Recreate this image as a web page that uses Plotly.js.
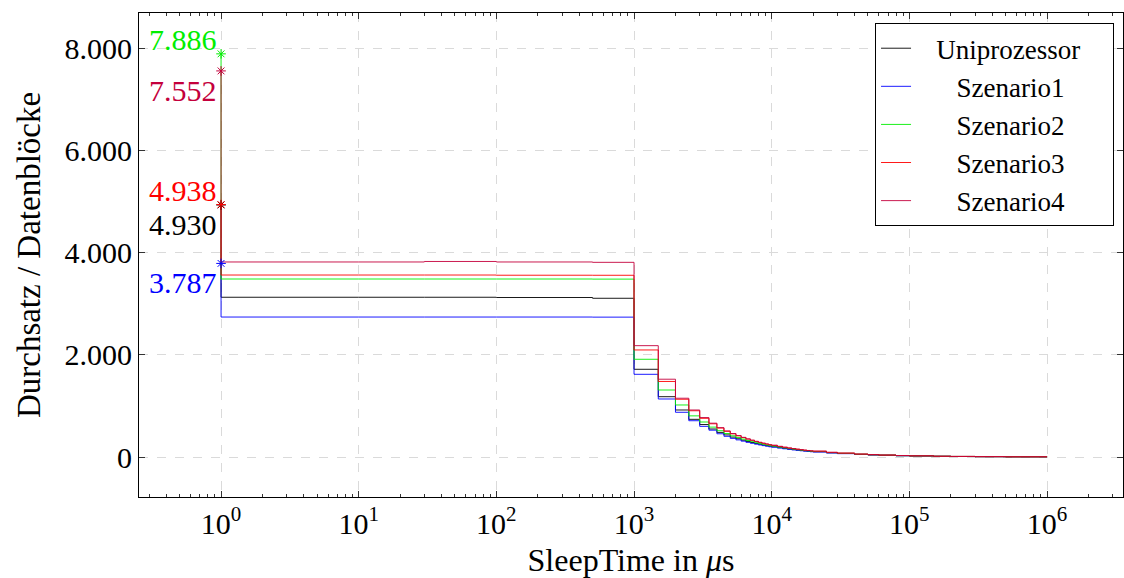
<!DOCTYPE html>
<html>
<head>
<meta charset="utf-8">
<script src="https://cdn.plot.ly/plotly-3.0.1.min.js"></script>
<style>
html,body{margin:0;padding:0;background:#fff;}
#chart{width:1124px;height:578px;}
</style>
</head>
<body>
<div id="chart"></div>
<script>
// ---- data ----
const seriesNames = ['Uniprozessor', 'Szenario1', 'Szenario2', 'Szenario3', 'Szenario4'];
const peakSleep = 1;
const peakValues = [4930, 3787, 7886, 4938, 7552];

const sleepPlateau = [1, 10, 30, 100, 500];
const plateauUni = [3125, 3125, 3125, 3120, 3105];
const plateauSz1 = [2738, 2738, 2738, 2738, 2736];
const plateauSz2 = [3482, 3482, 3482, 3482, 3480];
const plateauSz3 = [3560, 3560, 3560, 3556, 3555];
const plateauSz4 = [3815, 3815, 3825, 3815, 3808];

const sleepTail = [1000, 1500, 2000, 2500, 3000, 3500, 4000, 4500, 5000, 5500, 6000, 6500, 7000, 7500, 8000, 8500, 9000, 9500, 10000,
  11000, 12000, 13000, 14000, 15000, 16000, 17000, 18000, 19000, 20000,
  25000, 30000, 40000, 50000, 60000, 80000, 100000, 150000, 200000, 300000, 500000, 1000000];
const tailUni = [1716, 1180, 920, 737, 635, 548, 482, 432, 390, 357, 329, 305, 284, 266, 250, 236, 223, 212, 202,
  184, 170, 157, 146, 137, 128, 121, 114, 108, 103, 83, 69, 52, 42, 35, 26, 21, 14, 10.5, 7, 4.2, 2.1];
const tailSz1 = [1618, 1135, 875, 710, 600, 525, 455, 405, 365, 335, 310, 287, 268, 251, 236, 223, 211, 200, 191,
  175, 161, 149, 139, 130, 122, 115, 109, 103, 98, 79, 66, 50, 40, 34, 25, 20.5, 13.7, 10.3, 6.9, 4.1, 2];
const tailSz2 = [1912, 1311, 1018, 805, 685, 585, 515, 460, 415, 380, 350, 323, 300, 281, 264, 249, 236, 224, 213,
  194, 179, 165, 154, 144, 135, 127, 120, 114, 108, 87, 72, 54, 44, 36, 27, 22, 14.5, 11, 7.3, 4.4, 2.2];
const tailSz3 = [2094, 1478, 1130, 905, 757, 650, 566, 503, 453, 414, 380, 351, 326, 304, 285, 268, 253, 240, 228,
  207, 190, 176, 163, 152, 143, 134, 127, 120, 114, 91, 76, 57, 46, 38, 29, 23, 15, 11.5, 7.6, 4.6, 2.3];
const tailSz4 = [2178, 1522, 1150, 920, 772, 662, 575, 510, 460, 420, 385, 355, 330, 307, 288, 271, 256, 242, 230,
  209, 192, 177, 165, 154, 144, 135, 128, 121, 115, 92, 77, 58, 46, 38, 29, 23, 15, 11.5, 7.7, 4.6, 2.3];

const yTickVals = [0, 2000, 4000, 6000, 8000];
const yTickText = ['0', '2.000', '4.000', '6.000', '8.000'];
const xTickVals = [1, 10, 100, 1000, 10000, 100000, 1000000];
const xTickText = ['10<sup>0</sup>', '10<sup>1</sup>', '10<sup>2</sup>', '10<sup>3</sup>', '10<sup>4</sup>', '10<sup>5</sup>', '10<sup>6</sup>'];

// ---- styles ----
const colors = ['#000000', '#0000ff', '#00ee00', '#ff0000', '#c4003c'];
const labelAbove = [false, false, true, true, false];
const plateaus = [plateauUni, plateauSz1, plateauSz2, plateauSz3, plateauSz4];
const tails = [tailUni, tailSz1, tailSz2, tailSz3, tailSz4];
const FONT = 'Liberation Serif, Times New Roman, serif';

function deFormat(v) {
  const s = String(Math.round(v));
  return s.replace(/\B(?=(\d{3})+(?!\d))/g, '.');
}

const traces = [];
const markerTraces = [];
const annotations = [];
for (let i = 0; i < seriesNames.length; i++) {
  const xs = [peakSleep].concat(sleepPlateau, sleepTail);
  const ys = [peakValues[i]].concat(plateaus[i], tails[i]);
  traces.push({
    type: 'scatter', mode: 'lines',
    name: (i === 0 ? '\u2002\u00a0' + seriesNames[i] + '\u2002\u2002' : '\u2002\u2002\u00a0\u00a0' + seriesNames[i]),
    x: xs, y: ys, line: {shape: 'hv', color: colors[i], width: 0.9}
  });
  markerTraces.push({
    type: 'scatter', mode: 'markers', showlegend: false, hoverinfo: 'skip',
    x: [peakSleep], y: [peakValues[i]],
    marker: {symbol: 'asterisk-open', size: 8, color: colors[i], line: {color: colors[i], width: 1}}
  });
  annotations.push({
    x: Math.log10(peakSleep), y: peakValues[i], xref: 'x', yref: 'y',
    text: deFormat(peakValues[i]), showarrow: false,
    xanchor: 'right', yanchor: labelAbove[i] ? 'bottom' : 'top',
    xshift: -2, yshift: labelAbove[i] ? -4 : -1,
    font: {family: FONT, size: 30, color: colors[i]}
  });
}

// minor ticks: 2..9 per decade
const minorVals = [];
for (let d = -1; d <= 6; d++) {
  for (let k = 2; k <= 9; k++) {
    const v = k * Math.pow(10, d);
    if (v > 0.25 && v < 3.5e6) minorVals.push(v);
  }
}

const layout = {
  width: 1124, height: 578,
  margin: {l: 139, r: 1, t: 13, b: 81},
  paper_bgcolor: '#fff', plot_bgcolor: '#fff',
  font: {family: FONT, size: 30, color: '#000'},
  showlegend: true,
  legend: {
    x: 0.748, y: 0.979, xanchor: 'left', yanchor: 'top',
    bgcolor: '#fff', bordercolor: '#000', borderwidth: 1,
    font: {family: FONT, size: 27, color: '#000'},
    tracegroupgap: 0
  },
  xaxis: {
    type: 'log', range: [-0.596, 6.552],
    tickmode: 'array', tickvals: xTickVals, ticktext: xTickText,
    ticks: 'inside', ticklen: 6, tickcolor: '#333', tickwidth: 1,
    showline: true, linecolor: '#000', linewidth: 1, mirror: 'allticks',
    showgrid: true, gridcolor: '#dadada', griddash: 'dash', gridwidth: 1,
    zeroline: false,
    minor: {tickmode: 'array', tickvals: minorVals, ticks: 'inside', ticklen: 3, tickcolor: '#333', showgrid: false},
    tickfont: {family: FONT, size: 30},
    title: {text: 'SleepTime in <i>\u03bc</i>s', font: {family: FONT, size: 32}, standoff: 10},
    automargin: false
  },
  yaxis: {
    range: [-782, 8685],
    tickmode: 'array', tickvals: yTickVals, ticktext: yTickText,
    ticks: 'inside', ticklen: 6, tickcolor: '#333', tickwidth: 1,
    showline: true, linecolor: '#000', linewidth: 1, mirror: 'allticks',
    showgrid: true, gridcolor: '#dadada', griddash: 'dash', gridwidth: 1,
    zeroline: false,
    tickfont: {family: FONT, size: 30},
    title: {text: 'Durchsatz / Datenblöcke', font: {family: FONT, size: 33}, standoff: 13},
    automargin: false
  },
  annotations: annotations
};

Plotly.newPlot('chart', traces.concat(markerTraces), layout, {staticPlot: true, displayModeBar: false});
</script>
</body>
</html>
